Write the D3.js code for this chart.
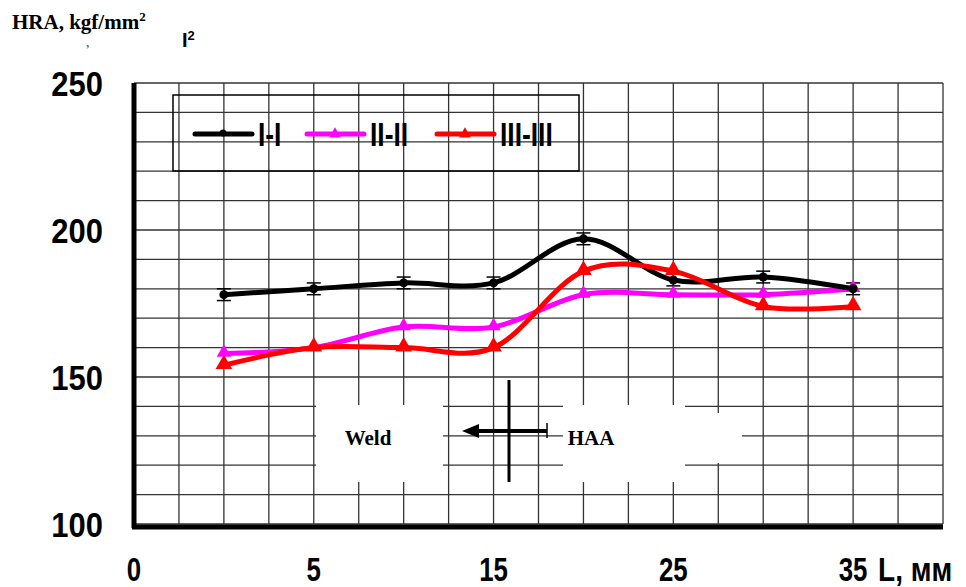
<!DOCTYPE html>
<html>
<head>
<meta charset="utf-8">
<script src="https://cdn.jsdelivr.net/npm/d3@7"></script>
<style>
  body { margin: 0; background: #fff; }
  svg { display: block; }
</style>
</head>
<body>
<svg id="chart" width="966" height="587"></svg>
<script>
// positions along the category axis (tick labels sit at every second one)
const positions = [1, 2, 3, 4, 5, 6, 7, 8];
const seriesNames = ['I-I', 'II-II', 'III-III'];
const seriesColors = ['#000000', '#ff00ff', '#ff0000'];
const hardnessI = [178, 180, 182, 182, 197, 183, 184, 180];
const hardnessII = [158, 160, 167, 167, 178, 178, 178, 180];
const hardnessIII = [154, 160, 160, 160, 186, 186, 174, 174];
const errorI = [2, 2, 2, 2, 2, 2, 2, 2];
const xTickPositions = [0, 2, 4, 6, 8];
const xTickLabels = ['0', '5', '15', '25', '35'];
const yTicks = [100, 150, 200, 250];

const FONT = "'Liberation Sans', Arial, sans-serif";
const SERIF = "'Liberation Serif', 'Times New Roman', serif";

const svg = d3.select('#chart');

const x = d3.scaleLinear().domain([0, 9]).range([134, 943]);
const y = d3.scaleLinear().domain([100, 250]).range([524, 83]);

// grid
const grid = svg.append('g').attr('id', 'grid')
    .attr('stroke', '#333').attr('stroke-width', 1.3);
grid.selectAll('line.v')
    .data(d3.range(0, 9.01, 0.5))
    .join('line')
    .attr('class', 'v')
    .attr('x1', d => x(d)).attr('x2', d => x(d))
    .attr('y1', y(250)).attr('y2', y(100));
grid.selectAll('line.h')
    .data(d3.range(100, 250.1, 10))
    .join('line')
    .attr('class', 'h')
    .attr('x1', x(0)).attr('x2', x(9))
    .attr('y1', d => y(d)).attr('y2', d => y(d));

// white patches behind the Weld / HAA labels
const notes = svg.append('g').attr('id', 'notes');
notes.append('rect').attr('x', 316).attr('y', 405).attr('width', 127).attr('height', 77).attr('fill', '#fff');
notes.append('rect').attr('x', 563).attr('y', 405).attr('width', 122).attr('height', 77).attr('fill', '#fff');
notes.append('rect').attr('x', 684).attr('y', 413).attr('width', 58).attr('height', 50).attr('fill', '#fff');

notes.append('text').attr('x', 368).attr('y', 445)
    .attr('text-anchor', 'middle')
    .style('font-family', SERIF).style('font-weight', 'bold').style('font-size', '21px')
    .text('Weld');
notes.append('text').attr('x', 591).attr('y', 445)
    .attr('text-anchor', 'middle')
    .style('font-family', SERIF).style('font-weight', 'bold').style('font-size', '21px')
    .text('HAA');

// boundary marker and arrow
notes.append('line').attr('x1', 509).attr('x2', 509).attr('y1', 380).attr('y2', 482)
    .attr('stroke', '#000').attr('stroke-width', 3);
notes.append('line').attr('x1', 547).attr('x2', 474).attr('y1', 431).attr('y2', 431)
    .attr('stroke', '#000').attr('stroke-width', 4);
notes.append('path').attr('d', 'M462,431 L479,424 L479,438 Z').attr('fill', '#000');
notes.append('line').attr('x1', 547).attr('x2', 547).attr('y1', 423).attr('y2', 438)
    .attr('stroke', '#000').attr('stroke-width', 1.5);

// thick axis lines
svg.append('line').attr('x1', x(0)).attr('x2', x(0)).attr('y1', y(250)).attr('y2', y(100) + 4)
    .attr('stroke', '#000').attr('stroke-width', 5);
svg.append('line').attr('x1', x(0) - 2).attr('x2', x(9)).attr('y1', y(100) + 3).attr('y2', y(100) + 3)
    .attr('stroke', '#000').attr('stroke-width', 5);

// legend box
const legend = svg.append('g').attr('id', 'legend');
legend.append('rect').attr('x', 173).attr('y', 95).attr('width', 406).attr('height', 76)
    .attr('fill', 'none').attr('stroke', '#000').attr('stroke-width', 1.5);

const triangle = d3.symbol().type(d3.symbolTriangle);

// series
const series = [hardnessI, hardnessII, hardnessIII].map((vals, i) => ({
    name: seriesNames[i],
    color: seriesColors[i],
    points: vals.map((v, j) => ({ p: positions[j], v: v }))
}));

const lineGen = d3.line()
    .x(d => x(d.p))
    .y(d => y(d.v))
    .curve(d3.curveCardinal.tension(0));

const plot = svg.append('g').attr('id', 'series');

// error bars for I-I
const eb = plot.append('g').attr('stroke', '#000').attr('stroke-width', 1.5);
series[0].points.forEach((d, j) => {
    const e = errorI[j];
    eb.append('line').attr('x1', x(d.p)).attr('x2', x(d.p)).attr('y1', y(d.v - e)).attr('y2', y(d.v + e));
    [d.v - e, d.v + e].forEach(c => {
        eb.append('line').attr('x1', x(d.p) - 7).attr('x2', x(d.p) + 7).attr('y1', y(c)).attr('y2', y(c));
    });
});

// magenta first, then black, red on top
[1, 0, 2].forEach(i => {
    const s = series[i];
    plot.append('path')
        .datum(s.points)
        .attr('d', lineGen)
        .attr('fill', 'none')
        .attr('stroke', s.color)
        .attr('stroke-width', 5)
        .attr('stroke-linejoin', 'round');
    if (i === 0) {
        plot.append('g').selectAll('circle')
            .data(s.points).join('circle')
            .attr('cx', d => x(d.p)).attr('cy', d => y(d.v)).attr('r', 4.5)
            .attr('fill', '#000');
    } else {
        plot.append('g').selectAll('path')
            .data(s.points).join('path')
            .attr('d', triangle.size(i === 2 ? 120 : 90))
            .attr('transform', d => `translate(${x(d.p)},${y(d.v) - 1})`)
            .attr('fill', s.color);
    }
});

// legend entries
const legendX = [195, 307, 437];
const legendTextX = [258, 370, 500];
series.forEach((s, i) => {
    legend.append('line')
        .attr('x1', legendX[i]).attr('x2', legendX[i] + 57)
        .attr('y1', 134).attr('y2', 134)
        .attr('stroke', s.color).attr('stroke-width', 5).attr('stroke-linecap', 'round');
    if (i === 0) {
        legend.append('circle').attr('cx', legendX[i] + 28).attr('cy', 133).attr('r', 3.5).attr('fill', '#000');
    } else {
        legend.append('path').attr('d', triangle.size(60))
            .attr('transform', `translate(${legendX[i] + 28},134)`).attr('fill', s.color);
    }
    legend.append('text')
        .attr('transform', `translate(${legendTextX[i]},146) scale(0.8,1)`)
        .style('font-family', FONT).style('font-weight', 'bold').style('font-size', '33px')
        .text(s.name);
});

// y labels
svg.append('g').selectAll('text')
    .data(yTicks).join('text')
    .attr('transform', d => `translate(103,${y(d) + 13}) scale(0.86,1)`)
    .attr('text-anchor', 'end')
    .style('font-family', FONT).style('font-weight', 'bold').style('font-size', '36px')
    .text(d => d);

// x labels
svg.append('g').selectAll('text')
    .data(xTickPositions).join('text')
    .attr('transform', d => `translate(${x(d)},581) scale(0.76,1)`)
    .attr('text-anchor', 'middle')
    .style('font-family', FONT).style('font-weight', 'bold').style('font-size', '34px')
    .text((d, i) => xTickLabels[i]);

svg.append('text')
    .attr('transform', 'translate(878,581) scale(0.85,1)')
    .style('font-family', FONT).style('font-weight', 'bold').style('font-size', '33px')
    .text('L, мм');

// axis title
const title = svg.append('text').attr('x', 12).attr('y', 29)
    .style('font-family', SERIF).style('font-weight', 'bold').style('font-size', '21px');
title.append('tspan').text('HRA, kgf/mm');
title.append('tspan').attr('dy', -8).style('font-size', '13px').text('2');

// leftover fragments of the older label
svg.append('text').attr('x', 86).attr('y', 47)
    .style('font-family', SERIF).style('font-size', '14px').attr('fill', '#444').text(',');
const frag = svg.append('text').attr('x', 182).attr('y', 47)
    .style('font-family', FONT).style('font-weight', 'bold').style('font-size', '20px');
frag.append('tspan').text('I');
frag.append('tspan').attr('dy', -7).style('font-size', '13px').text('2');
</script>
</body>
</html>
